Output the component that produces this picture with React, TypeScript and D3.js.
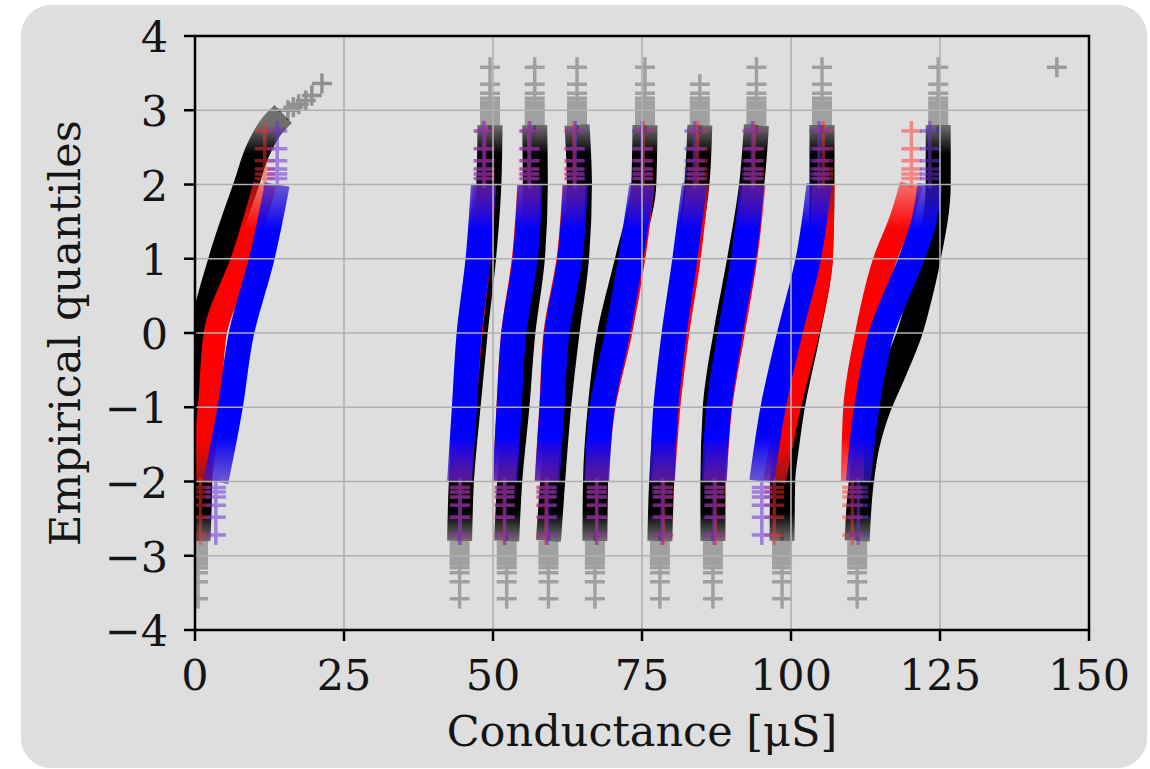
import { useEffect } from "react";
import * as d3 from "d3";

const blackCurves: [number, number][][] = [
  [[0.5, -2.8], [0.8, -2], [0.9, -1], [1.4, 0], [4.4, 1], [8.6, 2], [10.8, 2.5], [13.0, 2.8], [14.8, 2.95]],
  [[44.4, -2.8], [44.7, -2], [45.8, -1], [47.0, 0], [48.4, 1], [49.3, 2], [49.5, 2.8]],
  [[52.3, -2.8], [52.8, -2], [54.0, -1], [55.0, 0], [56.6, 1], [57.1, 2], [57.0, 2.8]],
  [[59.3, -2.8], [60.0, -2], [61.0, -1], [62.4, 0], [64.0, 1], [64.5, 2], [64.1, 2.8]],
  [[67.1, -2.8], [67.2, -2], [68.0, -1], [69.6, 0], [72.6, 1], [75.3, 2], [75.5, 2.8]],
  [[78.0, -2.8], [78.3, -2], [79.2, -1], [80.6, 0], [82.4, 1], [84.2, 2], [84.7, 2.8]],
  [[86.9, -2.8], [86.9, -2], [87.3, -1], [89.1, 0], [91.4, 1], [93.4, 2], [94.2, 2.8]],
  [[98.5, -2.8], [98.6, -2], [99.3, -1.5], [100.2, -1], [102.8, 0], [104.9, 1], [105.2, 2], [105.2, 2.8]],
  [[111.1, -2.8], [111.8, -2], [112.8, -1.5], [114.7, -1], [117.4, -0.5], [119.9, 0], [121.6, 0.5], [123.0, 1], [124.7, 2], [124.7, 2.8]],
];

const redCurves: [number, number][][] = [
  [[0.9, -2], [2.4, -1], [3.4, 0], [8.0, 1], [11.7, 2]],
  [[44.5, -2], [45.3, -1], [46.3, 0], [47.7, 1], [48.6, 2]],
  [[51.9, -2], [52.5, -1], [53.3, 0], [55.1, 1], [56.0, 2]],
  [[58.9, -2], [59.7, -1], [60.4, 0], [62.6, 1], [63.6, 2]],
  [[67.4, -2], [68.6, -1], [71.4, 0], [73.6, 1], [75.2, 2]],
  [[78.6, -2], [79.5, -1], [81.0, 0], [82.9, 1], [84.3, 2]],
  [[87.3, -2], [88.2, -1], [90.3, 0], [92.4, 1], [93.8, 2]],
  [[97.2, -2], [99.7, -1], [102.8, 0], [105.1, 1], [105.4, 2]],
  [[110.3, -2], [110.7, -1], [112.7, 0], [115.8, 1], [118.3, 1.5], [120.2, 2]],
];

const blueCurves: [number, number][][] = [
  [[3.5, -2], [5.9, -1], [7.8, 0], [11.2, 1], [13.8, 2]],
  [[44.4, -2], [45.2, -1], [46.0, 0], [47.5, 1], [48.4, 2]],
  [[52.0, -2], [52.7, -1], [53.5, 0], [55.4, 1], [56.2, 2]],
  [[59.1, -2], [59.9, -1], [60.7, 0], [62.9, 1], [63.8, 2]],
  [[67.4, -2], [68.3, -1], [70.9, 0], [73.1, 1], [75.0, 2]],
  [[78.4, -2], [79.0, -1], [80.4, 0], [82.2, 1], [83.8, 2]],
  [[87.1, -2], [87.9, -1], [89.8, 0], [92.0, 1], [93.5, 2]],
  [[95.1, -2], [97.0, -1], [99.8, 0], [102.9, 1], [104.7, 2]],
  [[111.3, -2], [112.7, -1], [115.2, 0], [120.2, 1], [122.3, 1.5], [123.3, 2]],
];

// sparse extreme quantiles (mirrored below zero)
const blackTailQ = [3.58, 3.35, 3.23, 3.16, 3.11, 3.07, 3.04, 3.01, 2.98, 2.96, 2.94, 2.92, 2.9, 2.88, 2.86, 2.84, 2.82];
const colorTailQ = [2.72, 2.48, 2.32, 2.21, 2.14, 2.08];
const blackTopMax = [0, 3.58, 3.58, 3.58, 3.58, 3.36, 3.58, 3.58, 3.58];
const firstBlackTop: [number, number][] = [
  [15.6, 3.0], [16.5, 3.04], [17.4, 3.08], [18.6, 3.13], [19.6, 3.2], [21.3, 3.36],
];
const strayPoints: [number, number][] = [[144.6, 3.58]];

const xTicks = [0, 25, 50, 75, 100, 125, 150];
const yTicks = [-4, -3, -2, -1, 0, 1, 2, 3, 4];

const font = "DejaVu Serif";

export default function App() {
  useEffect(() => {
    document.body.style.margin = "0";
  }, []);

  const x = d3.scaleLinear().domain([0, 150]).range([195, 1089]);
  const y = d3.scaleLinear().domain([-4, 4]).range([630, 36]);
  const line = d3
    .line<[number, number]>()
    .x((d) => x(d[0]))
    .y((d) => y(d[1]))
    .curve(d3.curveMonotoneY);
  const band = (pts: [number, number][]) => line([...pts].reverse()) || "";
  const plus = (v: number, q: number) => {
    const cx = x(v);
    const cy = y(q);
    return `M${cx - 10},${cy}h20M${cx},${cy - 10}v20`;
  };
  const tails = (curves: [number, number][][], qs: number[], top: number[] | null) =>
    curves
      .map((c, i) => {
        const lo = c[0][0];
        const hi = c[c.length - 1][0];
        const bottom = qs.map((q) => plus(lo, -q)).join("");
        const upper = qs
          .filter((q) => (top ? q <= top[i] : true))
          .map((q) => plus(hi, q))
          .join("");
        return bottom + upper;
      })
      .join("");

  const fmt = (t: number) => (t < 0 ? "\u2212" + Math.abs(t) : String(t));

  return (
    <svg width={1150} height={769} style={{ display: "block" }} fontFamily={font}>
      <defs>
        <clipPath id="plot">
          <rect x={195} y={36} width={894} height={594} />
        </clipPath>
        <linearGradient id="blackFade" gradientUnits="userSpaceOnUse" x1={0} x2={0} y1={y(2.8)} y2={y(-2.8)}>
          <stop offset="0" stopColor="#000" stopOpacity={0.5} />
          <stop offset="0.07" stopColor="#000" stopOpacity={1} />
          <stop offset="0.93" stopColor="#000" stopOpacity={1} />
          <stop offset="1" stopColor="#000" stopOpacity={0.5} />
        </linearGradient>
        <linearGradient id="blueFade" gradientUnits="userSpaceOnUse" x1={0} x2={0} y1={y(2)} y2={y(-2)}>
          <stop offset="0" stopColor="#3a1cc8" stopOpacity={0.7} />
          <stop offset="0.15" stopColor="#0000ff" stopOpacity={1} />
          <stop offset="0.85" stopColor="#0000ff" stopOpacity={1} />
          <stop offset="1" stopColor="#3a1cc8" stopOpacity={0.7} />
        </linearGradient>
        <linearGradient id="redFade" gradientUnits="userSpaceOnUse" x1={0} x2={0} y1={y(2)} y2={y(-2)}>
          <stop offset="0" stopColor="#ff2020" stopOpacity={0.6} />
          <stop offset="0.15" stopColor="#ff0000" stopOpacity={1} />
          <stop offset="0.85" stopColor="#ff0000" stopOpacity={1} />
          <stop offset="1" stopColor="#ff2020" stopOpacity={0.6} />
        </linearGradient>
      </defs>
      <rect x={21} y={5} width={1126} height={763} rx={30} fill="#dedede" />

      <g clipPath="url(#plot)" fill="none">
        {blackCurves.map((c, i) => (
          <path key={"k" + i} d={band(c)} stroke="url(#blackFade)" strokeWidth={25} />
        ))}
        <path d={tails(blackCurves, blackTailQ, blackTopMax)} stroke="#000" strokeOpacity={0.28} strokeWidth={3.5} />
        <path
          d={firstBlackTop.map((p) => plus(p[0], p[1])).join("")}
          stroke="#000"
          strokeOpacity={0.35}
          strokeWidth={3.5}
        />
        {redCurves.map((c, i) => (
          <path key={"r" + i} d={band(c)} stroke="url(#redFade)" strokeWidth={23} />
        ))}
        <path d={tails(redCurves, colorTailQ, null)} stroke="#ff3030" strokeOpacity={0.5} strokeWidth={3.5} />
        {blueCurves.map((c, i) => (
          <path key={"b" + i} d={band(c)} stroke="url(#blueFade)" strokeWidth={25} />
        ))}
        <path d={tails(blueCurves, colorTailQ, null)} stroke="#6a32d8" strokeOpacity={0.55} strokeWidth={3.5} />
        <path d={strayPoints.map((p) => plus(p[0], p[1])).join("")} stroke="#000" strokeOpacity={0.3} strokeWidth={3.5} />
      </g>

      <g stroke="#b0b0b0" strokeWidth={1.6}>
        {xTicks.map((t) => (
          <line key={"gx" + t} x1={x(t)} x2={x(t)} y1={36} y2={630} />
        ))}
        {yTicks.map((t) => (
          <line key={"gy" + t} x1={195} x2={1089} y1={y(t)} y2={y(t)} />
        ))}
      </g>

      <rect x={195} y={36} width={894} height={594} fill="none" stroke="#000" strokeWidth={2.5} />
      <g stroke="#000" strokeWidth={2.5}>
        {xTicks.map((t) => (
          <line key={"tx" + t} x1={x(t)} x2={x(t)} y1={630} y2={641} />
        ))}
        {yTicks.map((t) => (
          <line key={"ty" + t} x1={184} x2={195} y1={y(t)} y2={y(t)} />
        ))}
      </g>
      <g fontSize={43} fill="#151515">
        {xTicks.map((t) => (
          <text key={"lx" + t} x={x(t)} y={690} textAnchor="middle">
            {fmt(t)}
          </text>
        ))}
        {yTicks.map((t) => (
          <text key={"ly" + t} x={168} y={y(t) + 16} textAnchor="end">
            {fmt(t)}
          </text>
        ))}
        <text x={642} y={746} textAnchor="middle">
          Conductance [μS]
        </text>
        <text transform="translate(80,333) rotate(-90)" textAnchor="middle">
          Empirical quantiles
        </text>
      </g>
    </svg>
  );
}
